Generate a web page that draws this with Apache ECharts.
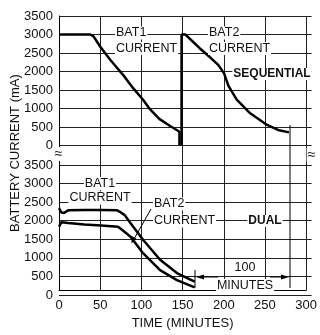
<!DOCTYPE html>
<html>
<head>
<meta charset="utf-8">
<script src="https://cdn.jsdelivr.net/npm/echarts@6/dist/echarts.min.js"></script>
<style>
html, body { margin: 0; padding: 0; background: #fff; }
#chart { width: 320px; height: 335px; }
</style>
</head>
<body>
<div id="chart"></div>
<script>
// time in minutes, current in mA
const timeMin = 0, timeMax = 300, timeStep = 50;
const currentMin = 0, currentMax = 3500, currentStep = 500;

// sequential mode (upper panel)
const seqBat1 = [[0, 3000], [37, 3000], [41, 2950], [49, 2670], [61, 2310], [76, 1910], [88, 1550], [100, 1230], [108, 980], [119, 720], [131, 540], [143, 370], [143, 0]];
const seqBat2 = [[145.5, 0], [145.5, 3000], [150, 3000], [167, 2630], [180, 2370], [189, 2180], [196, 1950], [201, 1620], [211, 1240], [227, 870], [247, 555], [260, 420], [273, 355]];

// dual mode (lower panel)
const dualBat1 = [[0, 2340], [3, 2220], [6, 2210], [11, 2280], [30, 2290], [50, 2290], [69, 2280], [73, 2230], [78, 2150], [85, 1930], [100, 1480], [120, 950], [140, 590], [161, 360]];
const dualBat2 = [[0, 1840], [3, 1960], [5, 1990], [11, 1940], [30, 1900], [50, 1870], [70, 1840], [74, 1770], [85, 1570], [100, 1120], [120, 670], [140, 400], [161, 207]];

const FONT = '"Liberation Sans", Arial, sans-serif';
const GRID_COLOR = "#222";

const chart = echarts.init(document.getElementById("chart"), null, { renderer: "canvas" });

function label(text, x, y, align, bold, size) {
    return {
        type: "text",
        x: x,
        y: y,
        z: 50,
        style: {
            text: text,
            font: (bold ? "bold 12px " : (size || 12.5) + "px ") + FONT,
            fill: "#111",
            align: align,
            verticalAlign: "middle",
            textAlign: align,
            textVerticalAlign: "middle",
            backgroundColor: "#fff",
            padding: [0, 1]
        }
    };
}
function seg(x1, y1, x2, y2) {
    return { type: "line", z: 50, shape: { x1, y1, x2, y2 }, style: { stroke: "#000", lineWidth: 1 } };
}
function head(points) {
    return { type: "polygon", z: 50, shape: { points }, style: { fill: "#000" } };
}

const valueAxis = (gridIndex) => ({
    type: "value",
    gridIndex: gridIndex,
    min: currentMin,
    max: currentMax,
    interval: currentStep,
    axisLine: { show: false },
    axisTick: { show: false },
    axisLabel: { margin: 6, fontSize: 13, fontFamily: FONT, color: "#111", formatter: v => String(v) },
    splitLine: { show: true, lineStyle: { color: GRID_COLOR, width: 1 } }
});
const hiddenTime = (gridIndex) => ({
    type: "value", gridIndex: gridIndex, min: timeMin, max: timeMax, interval: timeStep, show: false
});
const curve = (name, data, axis) => ({
    type: "line",
    name: name,
    xAxisIndex: axis,
    yAxisIndex: axis,
    data: data,
    symbol: "none",
    smooth: false,
    z: 5,
    lineStyle: { color: "#000", width: 2.5 }
});

const option = {
    backgroundColor: "#fff",
    animation: false,
    grid: [
        { left: 59, top: 16, width: 252.7, height: 279 },
        { left: 59, top: 16, width: 252.7, height: 129.5 },
        { left: 59, top: 165, width: 252.7, height: 130 }
    ],
    xAxis: [{
        type: "value",
        gridIndex: 0,
        min: timeMin,
        max: timeMax,
        interval: timeStep,
        name: "TIME (MINUTES)",
        nameLocation: "middle",
        nameGap: 33,
        nameTextStyle: { fontSize: 13, fontFamily: FONT, color: "#111", verticalAlign: "middle" },
        axisLine: { show: true, lineStyle: { color: "#000", width: 1 } },
        axisTick: { show: false },
        axisLabel: { margin: 9, fontSize: 13, fontFamily: FONT, color: "#111", formatter: v => String(v) },
        splitLine: { show: true, lineStyle: { color: GRID_COLOR, width: 1 } }
    }, hiddenTime(1), hiddenTime(2)],
    yAxis: [{
        type: "value",
        gridIndex: 0,
        min: 0,
        max: 1,
        name: "BATTERY CURRENT (mA)",
        nameLocation: "middle",
        nameRotate: 90,
        nameGap: 44,
        nameTextStyle: { fontSize: 13, fontFamily: FONT, color: "#111", verticalAlign: "middle" },
        axisLine: { show: true, lineStyle: { color: "#000", width: 1 } },
        axisTick: { show: false },
        axisLabel: { show: false },
        splitLine: { show: false }
    }, valueAxis(1), valueAxis(2)],
    series: [
        curve("BAT1 sequential", seqBat1, 1),
        curve("BAT2 sequential", seqBat2, 1),
        curve("BAT1 dual", dualBat1, 2),
        curve("BAT2 dual", dualBat2, 2)
    ],
    graphic: [
        // axis break marks
        label("≈", 58.5, 154, "center", false, 14),
        label("≈", 311.5, 155, "center", false, 14),
        // upper panel labels
        label("BAT1", 115, 33, "left"),
        label("CURRENT", 115, 48.5, "left"),
        label("BAT2", 208, 33, "left"),
        label("CURRENT", 208, 48.5, "left"),
        label("SEQUENTIAL", 272, 74, "center", true),
        // lower panel labels
        label("BAT1", 100, 183.5, "center"),
        label("CURRENT", 100, 198, "center"),
        label("BAT2", 153, 204, "left"),
        label("CURRENT", 153, 221, "left"),
        label("DUAL", 265, 221, "center", true),
        seg(151, 209, 134, 239),
        head([[131.5, 243.5], [131.7, 236], [136.5, 238.8]]),
        // 100 minutes dimension
        seg(195, 270, 195, 288),
        seg(290, 125, 290, 288),
        seg(203, 277, 218, 277),
        head([[196, 277], [204, 274.5], [204, 279.5]]),
        seg(270, 277, 282, 277),
        head([[289, 277], [281, 274.5], [281, 279.5]]),
        label("100", 245, 268, "center"),
        label("MINUTES", 245, 285.5, "center")
    ]
};

chart.setOption(option);
</script>
</body>
</html>
